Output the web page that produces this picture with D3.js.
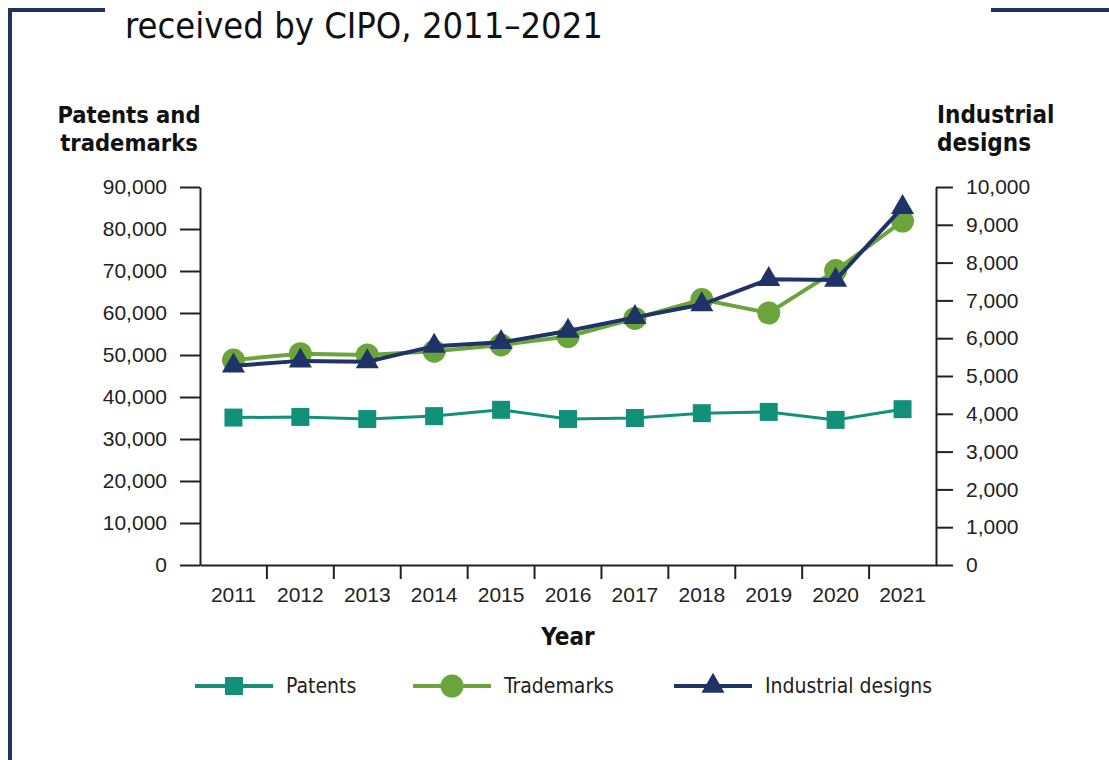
<!DOCTYPE html>
<html>
<head>
<meta charset="utf-8">
<script src="https://cdn.jsdelivr.net/npm/d3@7"></script>
<style>
  body { margin: 0; background: #fff; }
  svg { display: block; font-family: "DejaVu Sans Condensed", "DejaVu Sans", sans-serif; }
</style>
</head>
<body>
<div id="chart"></div>
<script>
const years = ["2011", "2012", "2013", "2014", "2015", "2016", "2017", "2018", "2019", "2020", "2021"]
const patents = [35100, 35250, 34750, 35450, 36950, 34750, 35000, 36150, 36450, 34550, 37100]
const trademarks = [48800, 50300, 50000, 50900, 52400, 54400, 58700, 63200, 60000, 70100, 81900]
const designs = [5270, 5400, 5380, 5790, 5890, 6190, 6550, 6890, 7560, 7540, 9460]
const leftTicks = [0, 10000, 20000, 30000, 40000, 50000, 60000, 70000, 80000, 90000]
const rightTicks = [0, 1000, 2000, 3000, 4000, 5000, 6000, 7000, 8000, 9000, 10000]

const colors = { patents: "#12917a", trademarks: "#6aa43a", designs: "#1f3368" }
const frame = "#1f3262"

const width = 1109, height = 760
const svg = d3.select("#chart").append("svg").attr("width", width).attr("height", height)

// frame pieces
svg.append("rect").attr("x", 8).attr("y", 8).attr("width", 97).attr("height", 4).attr("fill", frame)
svg.append("rect").attr("x", 8).attr("y", 8).attr("width", 4).attr("height", 752).attr("fill", frame)
svg.append("rect").attr("x", 991).attr("y", 8).attr("width", 118).attr("height", 4).attr("fill", frame)

svg.append("text")
	.attr("x", 125).attr("y", 38)
	.style("font-size", "36px")
	.attr("fill", "#111")
	.text("received by CIPO, 2011–2021")

const x = d3.scaleBand().domain(years).range([200, 936])
const yL = d3.scaleLinear().domain([0, 90000]).range([565, 187])
const yR = d3.scaleLinear().domain([0, 10000]).range([565, 187])
const fmt = d3.format(",")

const left = svg.append("g").attr("transform", "translate(200,0)")
	.call(d3.axisLeft(yL).tickValues(leftTicks).tickFormat(fmt).tickSize(20).tickSizeOuter(0).tickPadding(13))
const right = svg.append("g").attr("transform", "translate(936,0)")
	.call(d3.axisRight(yR).tickValues(rightTicks).tickFormat(fmt).tickSize(17).tickSizeOuter(0).tickPadding(13))
const bottom = svg.append("g").attr("transform", "translate(0,565)")
	.call(d3.axisBottom(x).tickSize(0).tickSizeOuter(0).tickPadding(22))

for (const ax of [left, right, bottom]) {
	ax.selectAll("path, line").attr("stroke", "#222").attr("stroke-width", 2)
	ax.selectAll("text").attr("fill", "#222").style("font-size", "21px").style("font-family", null)
}

// category separators below the x axis
bottom.selectAll(".sep")
	.data(years.slice(1))
	.enter()
	.append("line")
	.attr("x1", d => x(d)).attr("x2", d => x(d))
	.attr("y1", 0).attr("y2", 14)
	.attr("stroke", "#222").attr("stroke-width", 2)

svg.append("text").attr("x", 568).attr("y", 645).attr("text-anchor", "middle")
	.style("font-size", "24px").style("font-weight", "bold").attr("fill", "#111").text("Year")

const titleL = svg.append("text").attr("x", 129).attr("text-anchor", "middle")
	.style("font-size", "23.5px").style("font-weight", "bold").attr("fill", "#111")
titleL.append("tspan").attr("x", 129).attr("y", 123).text("Patents and")
titleL.append("tspan").attr("x", 129).attr("y", 151).text("trademarks")

const titleR = svg.append("text").attr("x", 937)
	.style("font-size", "24px").style("font-weight", "bold").attr("fill", "#111")
titleR.append("tspan").attr("x", 937).attr("y", 123).text("Industrial")
titleR.append("tspan").attr("x", 937).attr("y", 151).text("designs")

const cx = d => x(d) + x.bandwidth() / 2
const series = [
	{ name: "Patents", values: patents, y: yL, color: colors.patents, width: 3, symbol: d3.symbolSquare, size: 324 },
	{ name: "Trademarks", values: trademarks, y: yL, color: colors.trademarks, width: 4, symbol: d3.symbolCircle, size: 415 },
	{ name: "Industrial designs", values: designs, y: yR, color: colors.designs, width: 4, symbol: d3.symbolTriangle, size: 230 },
]

series.forEach(s => {
	const line = d3.line().x((d, i) => cx(years[i])).y(d => s.y(d))
	svg.append("path").datum(s.values).attr("d", line)
		.attr("fill", "none").attr("stroke", s.color).attr("stroke-width", s.width)
	svg.selectAll(null).data(s.values).enter().append("path")
		.attr("d", d3.symbol(s.symbol, s.size))
		.attr("transform", (d, i) => `translate(${cx(years[i])},${s.y(d)})`)
		.attr("fill", s.color)
})

// legend
const legendX = [195, 413, 674]
const legend = svg.selectAll(".legend").data(series).enter().append("g")
	.attr("class", "legend")
	.attr("transform", (d, i) => `translate(${legendX[i]},686)`)
legend.append("line").attr("x1", 0).attr("x2", 78)
	.attr("stroke", d => d.color).attr("stroke-width", 4)
legend.append("path").attr("transform", "translate(39,0)")
	.attr("d", d => d3.symbol(d.symbol, d.size)())
	.attr("fill", d => d.color)
legend.append("text").attr("x", 91).attr("dy", "0.35em")
	.style("font-size", "21px").attr("fill", "#222").text(d => d.name)
</script>
</body>
</html>
